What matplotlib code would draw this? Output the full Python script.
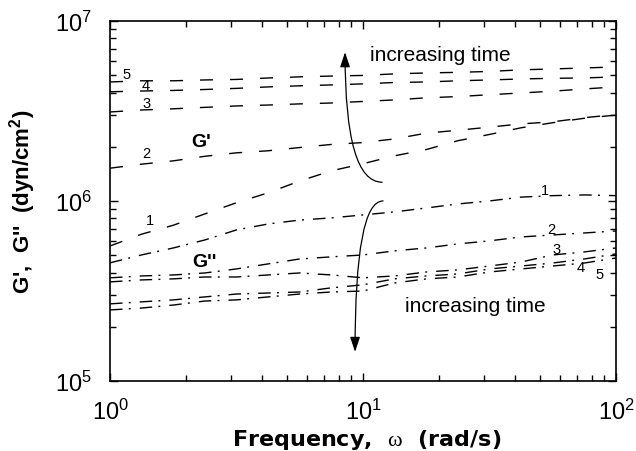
import math
import matplotlib
matplotlib.use("Agg")
import matplotlib.pyplot as plt
from matplotlib.ticker import LogLocator, FuncFormatter, NullFormatter

plt.rcParams['font.family'] = ['Liberation Sans', 'DejaVu Sans']
plt.rcParams['mathtext.fontset'] = 'custom'
plt.rcParams['mathtext.rm'] = 'Liberation Sans'
plt.rcParams['mathtext.bf'] = 'Liberation Sans:bold'
plt.rcParams['mathtext.it'] = 'Liberation Serif'
plt.rcParams['mathtext.default'] = 'regular'
plt.rcParams['lines.scale_dashes'] = False

# frequency (rad/s)
freq = [1.0, 1.33, 1.78, 2.37, 3.16, 4.22, 5.62, 7.5, 10.0, 13.3, 17.8, 23.7,
        31.6, 42.2, 56.2, 75.0, 100.0]

# storage modulus G' (dyn/cm^2), curves 1..5
gp1 = [5.62e5, 6.53e5, 7.33e5, 8.47e5, 9.77e5, 1.11e6, 1.29e6, 1.47e6, 1.61e6,
       1.78e6, 1.93e6, 2.16e6, 2.34e6, 2.55e6, 2.72e6, 2.88e6, 3.00e6]
gp2 = [1.52e6, 1.60e6, 1.67e6, 1.77e6, 1.85e6, 1.90e6, 1.98e6, 2.06e6, 2.11e6,
       2.21e6, 2.38e6, 2.47e6, 2.57e6, 2.68e6, 2.75e6, 2.90e6, 3.02e6]
gp3 = [3.12e6, 3.20e6, 3.25e6, 3.31e6, 3.37e6, 3.41e6, 3.46e6, 3.50e6, 3.57e6,
       3.64e6, 3.74e6, 3.80e6, 3.89e6, 3.98e6, 4.07e6, 4.19e6, 4.30e6]
gp4 = [4.04e6, 4.08e6, 4.11e6, 4.16e6, 4.22e6, 4.30e6, 4.36e6, 4.41e6, 4.47e6,
       4.55e6, 4.58e6, 4.65e6, 4.70e6, 4.76e6, 4.80e6, 4.82e6, 4.89e6]
gp5 = [4.58e6, 4.65e6, 4.65e6, 4.70e6, 4.73e6, 4.82e6, 4.89e6, 4.94e6, 4.98e6,
       5.08e6, 5.14e6, 5.18e6, 5.24e6, 5.35e6, 5.41e6, 5.48e6, 5.55e6]

# loss modulus G'' (dyn/cm^2), curves 1..5
gpp1 = [4.53e5, 5.01e5, 5.48e5, 6.07e5, 6.90e5, 7.45e5, 7.83e5, 8.05e5, 8.36e5,
        8.69e5, 9.14e5, 9.62e5, 1.00e6, 1.05e6, 1.07e6, 1.08e6, 1.07e6]
gpp2 = [3.74e5, 3.83e5, 3.88e5, 3.98e5, 4.19e5, 4.47e5, 4.76e5, 4.89e5, 5.01e5,
        5.28e5, 5.48e5, 5.77e5, 6.00e5, 6.31e5, 6.47e5, 6.64e5, 6.81e5]
gpp3 = [3.55e5, 3.64e5, 3.69e5, 3.78e5, 3.78e5, 3.88e5, 3.98e5, 3.88e5, 3.74e5,
        3.83e5, 4.03e5, 4.14e5, 4.35e5, 4.58e5, 5.01e5, 5.21e5, 5.48e5]
gpp4 = [2.68e5, 2.75e5, 2.82e5, 2.93e5, 3.04e5, 3.08e5, 3.12e5, 3.29e5, 3.42e5,
        3.69e5, 3.83e5, 3.93e5, 4.19e5, 4.35e5, 4.52e5, 4.76e5, 5.08e5]
gpp5 = [2.48e5, 2.54e5, 2.64e5, 2.78e5, 2.82e5, 2.93e5, 3.04e5, 3.12e5, 3.16e5,
        3.50e5, 3.69e5, 3.78e5, 4.03e5, 4.19e5, 4.35e5, 4.52e5, 4.82e5]

curve_labels = ['1', '2', '3', '4', '5']

fig = plt.figure(figsize=(6.36, 4.52), dpi=100)
ax = fig.add_axes([0.173, 0.155, 0.7956, 0.7965])

dash_gp = (0, (9.4, 12.2))
dash_gpp = (0, (9.0, 4.5, 1.4, 6.5))
for s in (gp1, gp2, gp3, gp4, gp5):
    ax.plot(freq, s, color='black', lw=1.0, linestyle=dash_gp)
for s in (gpp1, gpp2, gpp3, gpp4, gpp5):
    ax.plot(freq, s, color='black', lw=1.0, linestyle=dash_gpp)

ax.set_xscale('log')
ax.set_yscale('log')
ax.set_xlim(1, 100)
ax.set_ylim(1e5, 1e7)

def fmt(v, pos):
    e = int(round(math.log10(v)))
    return r'$10^{%d}$' % e

for axis in (ax.xaxis, ax.yaxis):
    axis.set_major_locator(LogLocator(base=10))
    axis.set_minor_locator(LogLocator(base=10, subs=range(2, 10)))
    axis.set_major_formatter(FuncFormatter(fmt))
    axis.set_minor_formatter(NullFormatter())

ax.tick_params(which='both', direction='in', top=True, right=True, width=1.0)
ax.tick_params(which='major', length=6)
ax.tick_params(which='minor', length=4)
ax.tick_params(axis='x', which='major', labelsize=17, pad=13)
ax.tick_params(axis='y', which='major', labelsize=17, pad=13)
for sp in ax.spines.values():
    sp.set_linewidth(1.2)

ax.set_xlabel(r"Frequency,  $\mathit{\omega}$  (rad/s)", fontsize=16,
              fontweight='bold', family=['DejaVu Sans'])
ax.xaxis.set_label_coords(0.507, -0.128)
ax.xaxis.label.set_va('top')
ax.set_ylabel(r"G',  G''  (dyn/cm$^{\mathbf{2}}$)", fontsize=16,
              fontweight='bold')
ax.yaxis.set_label_coords(-0.142, 0.5)

# curve labels
tkw = dict(fontsize=10.5, color='black', ha='center', va='center')
ax.text(1.167, 5.08e6, curve_labels[4], **tkw)
ax.text(1.388, 4.41e6, curve_labels[3], **tkw)
ax.text(1.388, 3.50e6, curve_labels[2], **tkw)
ax.text(1.388, 1.85e6, curve_labels[1], **tkw)
ax.text(1.44, 7.84e5, curve_labels[0], **tkw)
ax.text(52.4, 1.15e6, curve_labels[0], **tkw)
ax.text(55.7, 6.99e5, curve_labels[1], **tkw)
ax.text(58.3, 5.41e5, curve_labels[2], **tkw)
ax.text(72.3, 4.30e5, curve_labels[3], **tkw)
ax.text(86.4, 3.93e5, curve_labels[4], **tkw)

ax.text(2.29, 2.15e6, "G'", fontsize=14, fontweight='bold', ha='center', va='center')
ax.text(2.37, 4.58e5, "G''", fontsize=14, fontweight='bold', ha='center', va='center')
ax.text(10.67, 6.55e6, "increasing time", fontsize=15, ha='left', va='center')
ax.text(14.66, 2.64e5, "increasing time", fontsize=15, ha='left', va='center')

akw = dict(arrowstyle='-|>,head_length=0.9,head_width=0.3', color='black',
           lw=0.9, shrinkA=0, shrinkB=0)
ax.annotate('', xy=(8.49, 6.7e6), xytext=(11.9, 1.27e6),
            arrowprops=dict(connectionstyle='angle3,angleA=0,angleB=90', **akw))
ax.annotate('', xy=(9.3, 1.45e5), xytext=(12.0, 1.0e6),
            arrowprops=dict(connectionstyle='angle3,angleA=0,angleB=90', **akw))

fig.savefig('out.png', dpi=100)
